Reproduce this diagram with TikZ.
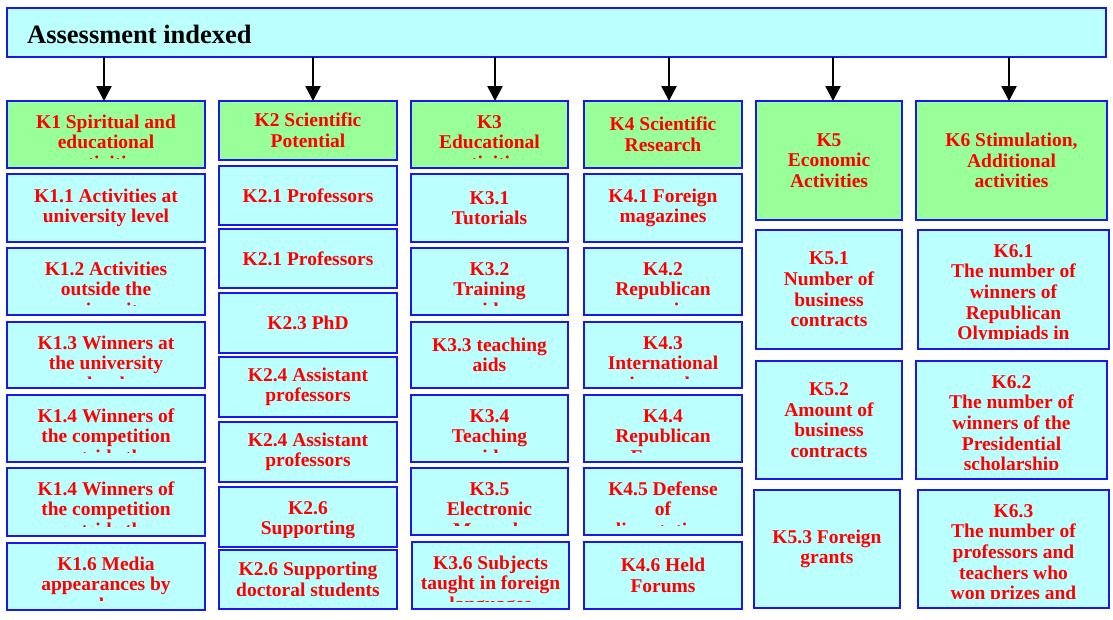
\documentclass[tikz,border=0pt]{standalone}
\usepackage{fontspec}
\setmainfont{Liberation Serif}
\usetikzlibrary{arrows.meta}
\definecolor{cy}{RGB}{187,255,255}
\definecolor{gr}{RGB}{153,255,153}
\definecolor{bd}{RGB}{25,25,235}
\tikzset{
  box/.style={draw=bd, line width=1.1pt, inner sep=0pt, outer sep=0pt},
  cyanbox/.style={box, fill=cy},
  greenbox/.style={box, fill=gr},
  ktext/.style={text=red, font=\fontsize{19.5}{20.6}\selectfont\bfseries, align=center, inner sep=0pt},
  arr/.style={line width=2.5pt, -{Triangle[width=15pt,length=15pt]}},
}
\newcommand\kbox[6]{\node[#6, minimum width={(#4)-(#2)}, minimum height={(#5)-(#3)}] (#1) at ({((#2)+(#4))/2},{((#3)+(#5))/2}) {};}
\newcommand\kc[7]{\kbox{#1}{#2}{#3}{#4}{#5}{#6}
  \begin{scope}\clip (#2,#3) rectangle (#4,{(#5)-8});
  \node[ktext] (#1t) at (#1.center) {#7};\end{scope}}
\newcommand\kt[8]{\kbox{#1}{#2}{#3}{#4}{#5}{#6}
  \begin{scope}\clip (#2,#3) rectangle (#4,{(#5)-(#7)});
  \node[ktext, anchor=north] (#1t) at ({((#2)+(#4))/2},{(#3)+13}) {\rule{0pt}{14pt}#8};\end{scope}}
\begin{document}
\begin{tikzpicture}[x=1pt,y=-1pt]
\path[fill=white, use as bounding box] (0,0) rectangle (1113,619);
% header
\node[cyanbox, minimum width=1099, minimum height=49] (hdr) at (556.5,32.5) {};
\node[anchor=base west, font=\fontsize{26.5}{30}\selectfont\bfseries, inner sep=0pt] (htxt) at (27,43) {Assessment indexed};
% column 1
\kt{k1}{7}{101}{205}{168}{greenbox}{10}{K1 Spiritual and\\educational\\activities}
\kc{k11}{7}{174}{205}{242}{cyanbox}{K1.1 Activities at\\university level}
\kt{k12}{7}{248}{205}{315}{cyanbox}{10}{K1.2 Activities\\outside the\\university}
\kt{k13}{7}{322}{205}{388}{cyanbox}{10}{K1.3 Winners at\\the university\\level}
\kt{k14}{7}{395}{205}{462}{cyanbox}{10}{K1.4 Winners of\\the competition\\outside the}
\kt{k15}{7}{468}{205}{536}{cyanbox}{10}{K1.4 Winners of\\the competition\\outside the}
\kt{k16}{7}{543}{205}{610}{cyanbox}{10}{K1.6 Media\\appearances by\\employees}
% column 2
\kc{k2}{219}{101}{397}{160}{greenbox}{K2 Scientific\\Potential}
\kc{k21}{219}{166}{397}{225}{cyanbox}{K2.1 Professors}
\kc{k22}{219}{229}{397}{288}{cyanbox}{K2.1 Professors}
\kc{k23}{219}{293}{397}{353}{cyanbox}{K2.3 PhD}
\kc{k24}{219}{357}{397}{417}{cyanbox}{K2.4 Assistant\\professors}
\kc{k25}{219}{422}{397}{482}{cyanbox}{K2.4 Assistant\\professors}
\kt{k26}{219}{487}{397}{547}{cyanbox}{10}{K2.6\\Supporting}
\kc{k27}{219}{550}{397}{609}{cyanbox}{K2.6 Supporting\\doctoral students}
% column 3
\kt{k3}{411}{101}{568}{168}{greenbox}{10}{K3\\Educational\\activities}
\kc{k31}{411}{174}{568}{242}{cyanbox}{K3.1\\Tutorials}
\kt{k32}{411}{248}{568}{315}{cyanbox}{10}{K3.2\\Training\\aids}
\kc{k33}{411}{322}{568}{388}{cyanbox}{K3.3 teaching\\aids}
\kt{k34}{411}{395}{568}{462}{cyanbox}{10}{K3.4\\Teaching\\aids}
\kt{k35}{411}{468}{568}{535}{cyanbox}{10}{K3.5\\Electronic\\Manuals}
\kt{k36}{412}{542}{569}{609}{cyanbox}{8}{K3.6 Subjects\\taught in foreign\\languages}
% column 4
\kc{k4}{584}{101}{742}{168}{greenbox}{K4 Scientific\\Research}
\kc{k41}{584}{174}{742}{242}{cyanbox}{K4.1 Foreign\\magazines}
\kt{k42}{584}{248}{742}{315}{cyanbox}{10}{K4.2\\Republican\\magazines}
\kt{k43}{584}{322}{742}{388}{cyanbox}{10}{K4.3\\International\\journals}
\kt{k44}{584}{395}{742}{462}{cyanbox}{10}{K4.4\\Republican\\Forums}
\kt{k45}{584}{468}{742}{535}{cyanbox}{10}{K4.5 Defense\\of\\dissertations}
\kc{k46}{584}{542}{742}{609}{cyanbox}{K4.6 Held\\Forums}
% column 5
\kc{k5}{756}{101}{902}{220}{greenbox}{K5\\Economic\\Activities}
\kc{k51}{756}{230}{902}{349}{cyanbox}{K5.1\\Number of\\business\\contracts}
\kc{k52}{756}{361}{902}{479}{cyanbox}{K5.2\\Amount of\\business\\contracts}
\kc{k53}{754}{490}{900}{608}{cyanbox}{K5.3 Foreign\\grants}
% column 6
\kc{k6}{916}{101}{1107}{220}{greenbox}{K6 Stimulation,\\Additional\\activities}
\kt{k61}{918}{230}{1109}{349}{cyanbox}{10}{K6.1\\The number of\\winners of\\Republican\\Olympiads in}
\kt{k62}{916}{361}{1107}{479}{cyanbox}{10}{K6.2\\The number of\\winners of the\\Presidential\\scholarship}
\kt{k63}{918}{490}{1109}{608}{cyanbox}{10}{K6.3\\The number of\\professors and\\teachers who\\won prizes and}
% arrows
\foreach \n/\x in {k1/104,k2/313,k3/495,k4/669,k5/833,k6/1009}{
  \coordinate (c\n) at (\x,0);
  \draw[arr] (hdr.south -| c\n) -- (\n.north -| c\n);
}
\end{tikzpicture}
\end{document}
